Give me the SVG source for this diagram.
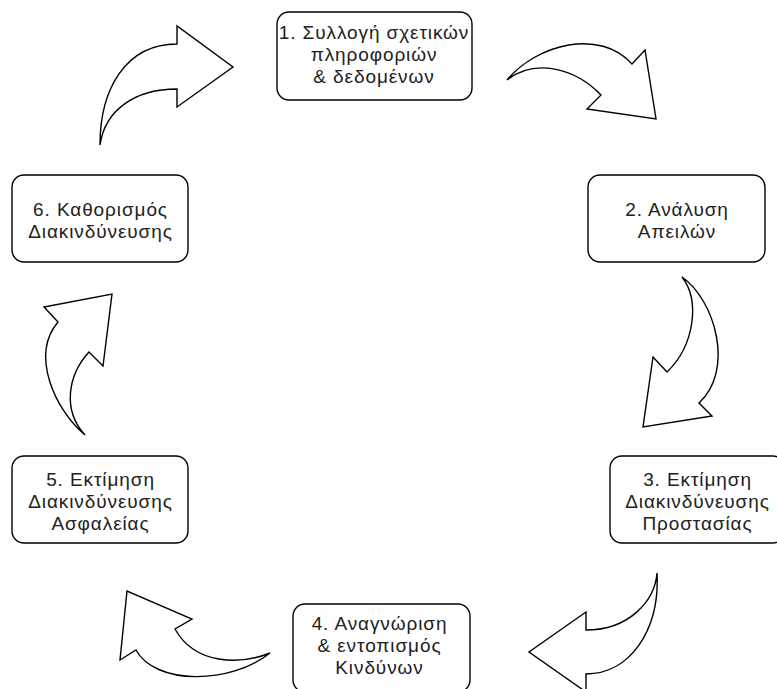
<svg xmlns="http://www.w3.org/2000/svg" width="777" height="689" viewBox="0 0 777 689">
<style>
.box{fill:#fff;stroke:#000;stroke-width:1.4}
.arr{fill:#fff;stroke:#000;stroke-width:1.4;stroke-linejoin:miter}
text{font-family:"Liberation Sans",Arial,sans-serif;font-size:19px;letter-spacing:0.9px;fill:#222;text-anchor:middle}
</style>
<rect width="777" height="689" fill="#fff"/>
<g id="connectors">
<path class="arr" d="M100,145 C100,90 125,44 177,44 L177,26 L233,67 L177,107 L177,89 C135,89 105,110 100,145 Z"/>
<path class="arr" d="M507,80 C537,44 600,28 632,64 L645,50 L656,119 L587,109 L601,95 C575,68 535,58 507,80 Z"/>
<path class="arr" d="M682,277 C715,300 735,370 699,403 L712,416 L643,427 L653,357 L667,372 C695,345 700,300 682,277 Z"/>
<path class="arr" d="M657,573 C655,600 630,630 586,630 L586,612 L529,652 L586,692 L586,674 C630,674 660,630 657,573 Z"/>
<path class="arr" d="M270,653 C240,665 195,665 175,629 L192,619 L127,591 L120,660 L136,650 C155,685 230,685 270,653 Z"/>
<path class="arr" d="M85,435 C55,410 30,355 58,322 L44,307 L112,294 L103,366 L89,352 C68,375 62,410 85,435 Z"/>
</g>
<g id="node1">
<rect class="box" x="277" y="12" width="195" height="88" rx="12"/>
<text x="374" y="39">1. Συλλογή σχετικών</text>
<text x="374" y="61">πληροφοριών</text>
<text x="374" y="83">&amp; δεδομένων</text>
</g>
<g id="node2">
<rect class="box" x="588" y="175" width="177" height="87" rx="12"/>
<text x="677" y="216">2. Ανάλυση</text>
<text x="677" y="238">Απειλών</text>
</g>
<g id="node3">
<rect class="box" x="610" y="456" width="175" height="87" rx="12"/>
<text x="697.5" y="485.5">3. Εκτίμηση</text>
<text x="697.5" y="507.5">Διακινδύνευσης</text>
<text x="697.5" y="529.5">Προστασίας</text>
</g>
<g id="node4">
<rect class="box" x="293" y="604" width="177" height="88" rx="12"/>
<text x="379.5" y="629.5">4. Αναγνώριση</text>
<text x="379.5" y="651.5">&amp; εντοπισμός</text>
<text x="379.5" y="673.5">Κινδύνων</text>
</g>
<g id="node5">
<rect class="box" x="12" y="456" width="176" height="87" rx="12"/>
<text x="100.5" y="485.5">5. Εκτίμηση</text>
<text x="100.5" y="507.5">Διακινδύνευσης</text>
<text x="100.5" y="529.5">Ασφαλείας</text>
</g>
<g id="node6">
<rect class="box" x="12" y="175" width="176" height="87" rx="12"/>
<text x="100.5" y="216">6. Καθορισμός</text>
<text x="100.5" y="238">Διακινδύνευσης</text>
</g>
</svg>
